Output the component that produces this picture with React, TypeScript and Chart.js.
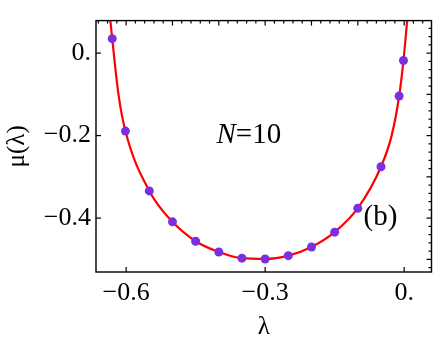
import React, { useEffect, useRef } from "react";
import { Chart, registerables } from "chart.js";

Chart.register(...registerables);

// Purple sample points (lambda, mu)
const lambdaPoints = [-0.630, -0.6015, -0.55, -0.50, -0.45, -0.40, -0.35, -0.30, -0.25, -0.20, -0.15, -0.10, -0.05, -0.0108, -0.0015];
const muPoints = [0.035, -0.189, -0.334, -0.409, -0.456, -0.482, -0.497, -0.499, -0.491, -0.470, -0.434, -0.376, -0.2755, -0.104, -0.018];

// Red curve samples
const curveLambda = [-0.634, -0.630, -0.6165, -0.6015, -0.55, -0.50, -0.45, -0.40, -0.35, -0.30, -0.25, -0.20, -0.15, -0.10, -0.05, -0.027, -0.0108, -0.0015, 0.0065];
const curveMu = [0.0788, 0.035, -0.10, -0.189, -0.334, -0.409, -0.456, -0.482, -0.497, -0.499, -0.491, -0.470, -0.434, -0.376, -0.2755, -0.20, -0.104, -0.018, 0.0788];

// Axes
const xMin = -0.665;
const xMax = 0.059;
const yMin = -0.5306;
const yMax = 0.0788;
const xMajorTicks = [-0.6, -0.3, 0];
const xTickLabels = ["\u22120.6", "\u22120.3", "0."];
const yMajorTicks = [-0.4, -0.2, 0];
const yTickLabels = ["\u22120.4", "\u22120.2", "0."];
const minorStep = 0.02;
const serif = "'Liberation Serif', 'DejaVu Serif', serif";

const framePlugin = {
  id: "frameTicks",
  afterDatasetsDraw(chart: any) {
    const { ctx, chartArea: a, scales } = chart;
    const x = scales.x;
    const y = scales.y;
    ctx.save();
    ctx.strokeStyle = "#000";
    ctx.lineWidth = 1.4;
    ctx.strokeRect(a.left, a.top, a.right - a.left, a.bottom - a.top);
    const line = (x1: number, y1: number, x2: number, y2: number) => {
      ctx.beginPath();
      ctx.moveTo(x1, y1);
      ctx.lineTo(x2, y2);
      ctx.stroke();
    };
    ctx.lineWidth = 1.2;
    xMajorTicks.forEach((v) => {
      const px = x.getPixelForValue(v);
      line(px, a.bottom, px, a.bottom - 5);
    });
    yMajorTicks.forEach((v) => {
      const py = y.getPixelForValue(v);
      line(a.left, py, a.left + 5, py);
    });
    // top ticks
    for (let i = Math.ceil(xMin / minorStep); i * minorStep <= xMax; i++) {
      const v = i * minorStep;
      const px = x.getPixelForValue(v);
      const major = i % 5 === 0;
      line(px, a.top, px, a.top + (major ? 5 : 3));
    }
    // right ticks
    for (let i = Math.ceil(yMin / minorStep); i * minorStep <= yMax; i++) {
      const v = i * minorStep;
      const py = y.getPixelForValue(v);
      const major = i % 5 === 0;
      line(a.right, py, a.right - (major ? 5 : 3), py);
    }
    // annotations
    ctx.fillStyle = "#000";
    ctx.textBaseline = "middle";
    ctx.textAlign = "left";
    const nx = x.getPixelForValue(-0.405);
    const ny = y.getPixelForValue(-0.2);
    ctx.font = `italic 29px ${serif}`;
    ctx.fillText("N", nx, ny);
    const w = ctx.measureText("N").width;
    ctx.font = `29px ${serif}`;
    ctx.fillText("=10", nx + w, ny);
    ctx.textAlign = "center";
    ctx.fillText("(b)", x.getPixelForValue(-0.051), y.getPixelForValue(-0.399));
    ctx.restore();
  },
};

export default function App() {
  const ref = useRef<HTMLCanvasElement>(null);
  useEffect(() => {
    document.body.style.margin = "0";
    if (!ref.current) return;
    const chart = new Chart(ref.current, {
      type: "scatter",
      data: {
        datasets: [
          {
            type: "scatter",
            data: lambdaPoints.map((l, i) => ({ x: l, y: muPoints[i] })),
            backgroundColor: "#7b2fe0",
            borderColor: "#7b2fe0",
            pointRadius: 4.5,
            borderWidth: 0,
          },
          {
            type: "line",
            data: curveLambda.map((l, i) => ({ x: l, y: curveMu[i] })),
            borderColor: "#ff0000",
            borderWidth: 2.2,
            pointRadius: 0,
            fill: false,
            cubicInterpolationMode: "monotone",
          } as any,
        ],
      },
      options: {
        animation: false,
        responsive: false,
        maintainAspectRatio: false,
        layout: { padding: { top: 1, right: 4, left: 0, bottom: 0 } },
        plugins: { legend: { display: false }, tooltip: { enabled: false } },
        scales: {
          x: {
            type: "linear",
            min: xMin,
            max: xMax,
            grid: { display: false, drawTicks: false },
            border: { display: false },
            afterBuildTicks: (s: any) => {
              s.ticks = xMajorTicks.map((v) => ({ value: v }));
            },
            afterFit: (s: any) => {
              s.height = 73;
            },
            ticks: {
              padding: 6,
              color: "#000",
              font: { family: serif, size: 26 },
              maxRotation: 0,
              callback: (_v: any, i: number) => xTickLabels[i],
            },
            title: {
              display: true,
              text: "λ",
              color: "#000",
              font: { family: serif, size: 25 },
              padding: { top: 0, bottom: 3 },
            },
          },
          y: {
            type: "linear",
            min: yMin,
            max: yMax,
            grid: { display: false, drawTicks: false },
            border: { display: false },
            afterBuildTicks: (s: any) => {
              s.ticks = yMajorTicks.map((v) => ({ value: v }));
            },
            afterFit: (s: any) => {
              s.width = 96;
            },
            ticks: {
              padding: 5,
              color: "#000",
              font: { family: serif, size: 26 },
              callback: (_v: any, i: number) => yTickLabels[i],
            },
            title: {
              display: true,
              text: "μ(λ)",
              color: "#000",
              font: { family: serif, size: 25 },
              padding: { top: 2, bottom: 0 },
            },
          },
        },
      },
      plugins: [framePlugin],
    });
    return () => chart.destroy();
  }, []);
  return (
    <div style={{ width: 436, height: 345 }}>
      <canvas ref={ref} width={436} height={345} style={{ display: "block" }} />
    </div>
  );
}
